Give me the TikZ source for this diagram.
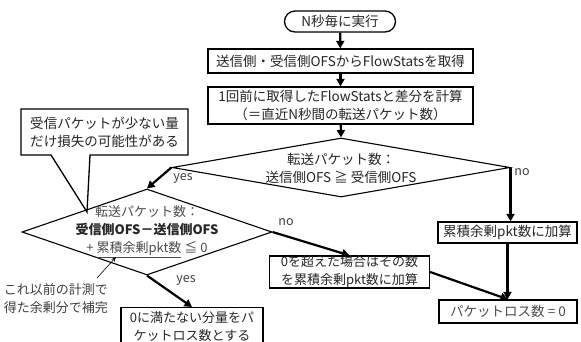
\documentclass[tikz,border=0pt]{standalone}
\usepackage{fontspec}
\setmainfont{Noto Sans CJK JP}
\usetikzlibrary{arrows.meta,shapes.misc,shapes.geometric}
\tikzset{
  box/.style={draw, line width=1.3pt, inner sep=0pt, align=center, text=black!85},
  dia/.style={draw, diamond, line width=1.1pt, inner sep=0pt},
  arr/.style={line width=2.2pt, -{Triangle[length=7.5pt,width=8pt]}},
  lbl/.style={text=black!75, font=\fontsize{12.5}{14}\selectfont},
  txt/.style={align=center, text=black!85, font=\fontsize{13.5}{18}\selectfont},
  small/.style={font=\fontsize{13}{18}\selectfont},
}
\begin{document}
\begin{tikzpicture}[x=1pt,y=-1pt, font=\fontsize{13.5}{18}\selectfont]
\useasboundingbox (0,0) rectangle (581,341);
\fill[white] (0,0) rectangle (581,341);
\node[box, rounded rectangle, minimum width=111pt, minimum height=21pt] (term) at (340,21.5) {N秒毎に実行};
\node[box, minimum width=265pt, minimum height=24pt] (get) at (340.5,61) {送信側・受信側OFSからFlowStatsを取得};
\node[box, minimum width=265pt, minimum height=37pt] (diff) at (340.5,105.5) {1回前に取得したFlowStatsと差分を計算\\（＝直近N秒間の転送パケット数）};
\node[dia, minimum width=338pt, minimum height=59pt] (d1) at (341,167.5) {};
\node[txt] (d1t) at (341,168) {転送パケット数：\\送信側OFS ≧ 受信側OFS};
\node[dia, minimum width=250pt, minimum height=86pt] (d2) at (147,232) {};
\node[txt, small] (d2t) at (147,232) {\textcolor{black!70}{転送パケット数：}\\\textbf{受信側OFS－送信側OFS}\\\textcolor{black!70}{+ \underline{累積余剰pkt数} ≦ 0}};
\node[box, minimum width=139pt, minimum height=21pt] (acc) at (507.5,232.5) {累積余剰pkt数に加算};
\node[box, small, minimum width=160pt, minimum height=30pt] (over) at (349.5,272) {0を超えた場合はその数\\を累積余剰pkt数に加算};
\node[box, small, minimum width=142pt, minimum height=37pt, anchor=north] (under) at (192,307) {0に満たない分量をパ\\ケットロス数とする};
\node[box, text=black!70, minimum width=138pt, minimum height=23pt] (loss) at (508,311.5) {パケットロス数 = 0};
% callout
\draw[line width=1.3pt] (21,109) -- (188,109) -- (188,155) -- (90,155) -- (87,212) -- (51,155) -- (21,155) -- cycle;
\node[txt] (cb) at (104.5,132) {受信パケットが少ない量\\だけ損失の可能性がある};
\node[txt, text=black!75, small] (note) at (56,299) {これ以前の計測で\\得た余剰分で補完};
\coordinate (ntip) at (116,257);
\draw[line width=0.6pt, -{Stealth[length=5pt,width=4pt]}] (97,278) -- (ntip);
% connectors
\draw[arr] (term) -- (get);
\draw[arr] (get) -- (diff);
\draw[arr] (diff) -- (d1.north);
\draw[arr] (d1.east) -- (d1.east |- acc.north);
\draw[arr] (d1.west) -- (d2.north);
\draw[arr] (d2.east) -- (over.north);
\draw[arr] (d2.south) -- (under.north);
\draw[arr] (acc.south) -- (acc.south |- loss.north);
\draw[arr] (over.east) -- (loss.north);
% labels
\node[lbl] (y1) at (183,178) {yes};
\node[lbl] (n1) at (522,172) {no};
\node[lbl] (n2) at (286,222) {no};
\node[lbl] (y2) at (186,280) {yes};
\end{tikzpicture}
\end{document}
